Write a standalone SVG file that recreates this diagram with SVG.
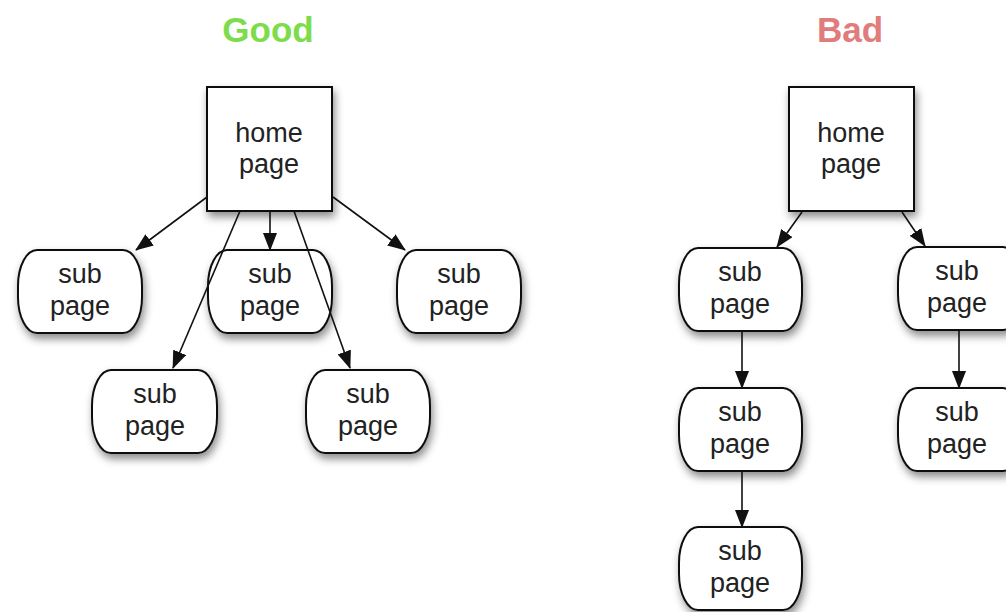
<svg xmlns="http://www.w3.org/2000/svg" width="1006" height="612" viewBox="0 0 1006 612">
  <style>
    .title { font-family: "Liberation Sans", Arial, sans-serif; font-weight: bold; font-size: 35px; text-anchor: middle; }
    .label { font-family: "Liberation Sans", Arial, sans-serif; font-size: 27px; fill: #222; text-anchor: middle; }
    .home { fill: #fff; stroke: #111; stroke-width: 2; filter: url(#shadow); }
    .sub { fill: #fff; stroke: #111; stroke-width: 2; filter: url(#shadow); }
    .edge { stroke: #111; stroke-width: 1.6; fill: none; marker-end: url(#arrow); }
  </style>
  <defs>
    <filter id="shadow" x="-20%" y="-20%" width="150%" height="160%">
      <feDropShadow dx="2" dy="5" stdDeviation="4" flood-color="#000" flood-opacity="0.45"/>
    </filter>
    <marker id="arrow" markerUnits="userSpaceOnUse" markerWidth="18" markerHeight="14" refX="17" refY="7" orient="auto">
      <path d="M0,0 L18,7 L0,14 z" fill="#111"/>
    </marker>
  </defs>
  <rect width="1006" height="612" fill="#fff"/>

  <text class="title" x="268" y="42" fill="#7ddc4a">Good</text>
  <text class="title" x="850" y="42" fill="#e07c7c">Bad</text>

  <!-- good layout -->
  <g id="good-home">
    <rect class="home" x="207" y="87" width="125" height="124"/>
    <text class="label" x="269" y="142">home</text>
    <text class="label" x="269" y="173">page</text>
  </g>
  <g id="good-sub-1">
    <rect class="sub" x="18" y="250" width="124" height="83" rx="19" ry="36"/>
    <text class="label" x="80" y="283">sub</text>
    <text class="label" x="80" y="315">page</text>
  </g>
  <g id="good-sub-2">
    <rect class="sub" x="208" y="250" width="124" height="83" rx="19" ry="36"/>
    <text class="label" x="270" y="283">sub</text>
    <text class="label" x="270" y="315">page</text>
  </g>
  <g id="good-sub-3">
    <rect class="sub" x="397" y="250" width="124" height="83" rx="19" ry="36"/>
    <text class="label" x="459" y="283">sub</text>
    <text class="label" x="459" y="315">page</text>
  </g>
  <g id="good-sub-4">
    <rect class="sub" x="92" y="370" width="125" height="83" rx="19" ry="36"/>
    <text class="label" x="155" y="403">sub</text>
    <text class="label" x="155" y="435">page</text>
  </g>
  <g id="good-sub-5">
    <rect class="sub" x="306" y="370" width="124" height="83" rx="19" ry="36"/>
    <text class="label" x="368" y="403">sub</text>
    <text class="label" x="368" y="435">page</text>
  </g>

  <!-- bad layout -->
  <g id="bad-home">
    <rect class="home" x="789" y="87" width="125" height="124"/>
    <text class="label" x="851" y="142">home</text>
    <text class="label" x="851" y="173">page</text>
  </g>
  <g id="bad-sub-1">
    <rect class="sub" x="679" y="248" width="123" height="83" rx="19" ry="36"/>
    <text class="label" x="740" y="281">sub</text>
    <text class="label" x="740" y="313">page</text>
  </g>
  <g id="bad-sub-2">
    <rect class="sub" x="679" y="388" width="123" height="83" rx="19" ry="36"/>
    <text class="label" x="740" y="421">sub</text>
    <text class="label" x="740" y="453">page</text>
  </g>
  <g id="bad-sub-3">
    <rect class="sub" x="679" y="527" width="123" height="83" rx="19" ry="36"/>
    <text class="label" x="740" y="560">sub</text>
    <text class="label" x="740" y="592">page</text>
  </g>
  <g id="bad-sub-4">
    <rect class="sub" x="898" y="247" width="124" height="83" rx="19" ry="36"/>
    <text class="label" x="957" y="280">sub</text>
    <text class="label" x="957" y="312">page</text>
  </g>
  <g id="bad-sub-5">
    <rect class="sub" x="898" y="388" width="124" height="83" rx="19" ry="36"/>
    <text class="label" x="957" y="421">sub</text>
    <text class="label" x="957" y="453">page</text>
  </g>

  <!-- connectors drawn over the nodes, so edges crossing a node stay visible -->
  <g id="connectors">
    <line class="edge" x1="207" y1="197" x2="136" y2="250"/>
    <line class="edge" x1="270" y1="211" x2="270" y2="250"/>
    <line class="edge" x1="333" y1="197" x2="405" y2="250"/>
    <line class="edge" x1="240" y1="211" x2="173" y2="368"/>
    <line class="edge" x1="294" y1="211" x2="350" y2="368"/>
    <line class="edge" x1="802" y1="212" x2="777" y2="247"/>
    <line class="edge" x1="902" y1="212" x2="925" y2="246"/>
    <line class="edge" x1="742" y1="331" x2="742" y2="388"/>
    <line class="edge" x1="742" y1="471" x2="742" y2="527"/>
    <line class="edge" x1="959" y1="330" x2="959" y2="388"/>
  </g>
</svg>
